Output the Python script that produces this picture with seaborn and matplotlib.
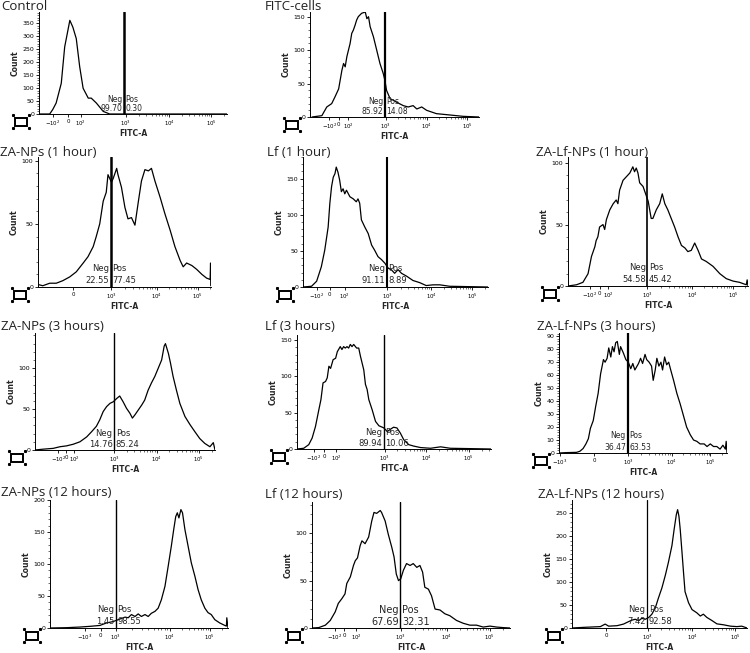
import matplotlib
matplotlib.use("Agg")
import numpy as np
import matplotlib.pyplot as plt
import seaborn as sns
from matplotlib.patches import Rectangle
from matplotlib.lines import Line2D
from matplotlib.ticker import AutoMinorLocator, FixedLocator

# Styling
sns.set_theme(style="ticks")
plt.rcParams["font.family"] = ["DejaVu Sans"]
plt.rcParams["mathtext.fontset"] = "dejavusans"

W, H = 750, 653

# Data (x = position on the FITC-A display scale, y = count)
control_x = [0.98, 1.23, 1.30, 1.38, 1.50, 1.58, 1.70, 1.77, 1.85, 1.93, 2.01, 2.13, 2.20, 2.32, 2.48, 2.63, 5.37]
control_y = [0, 0, 17, 42, 118, 258, 360, 334, 290, 182, 99, 61, 61, 42, 10, 0, 0]

fitc_x = [1.20, 1.32, 1.44, 1.56, 1.68, 1.76, 1.85, 1.93, 1.97, 2.01, 2.05, 2.13, 2.17, 2.21, 2.25, 2.29,
          2.33, 2.41, 2.50, 2.54, 2.58, 2.62, 2.70, 2.78, 2.86, 2.94, 2.98, 3.02, 3.11, 3.19, 3.27, 3.43,
          3.55, 3.67, 3.76, 3.88, 4.00, 4.24, 4.57, 4.89, 5.28]
fitc_y = [0, 1, 2, 15, 20, 30, 42, 70, 80, 75, 90, 110, 125, 130, 137, 145,
          150, 155, 157, 147, 150, 135, 120, 100, 80, 65, 55, 40, 27, 25, 22, 17,
          15, 17, 12, 15, 10, 5, 3, 1, 0]

za1_x = [1.31, 1.42, 1.58, 1.73, 1.88, 2.04, 2.19, 2.35, 2.46, 2.58, 2.65, 2.73, 2.81, 2.88, 2.92, 2.96,
         3.00, 3.04, 3.12, 3.15, 3.23, 3.31, 3.38, 3.46, 3.54, 3.62, 3.69, 3.77, 3.85, 3.92, 4.00, 4.12,
         4.23, 4.35, 4.46, 4.58, 4.65, 4.73, 4.85, 4.96, 5.08, 5.19, 5.27, 5.28, 5.285]
za1_y = [2, 1, 3, 3, 5, 8, 12, 19, 24, 32, 40, 50, 68, 75, 89, 86,
         83, 86, 94, 89, 79, 63, 54, 55, 49, 68, 84, 93, 92, 94, 84, 71,
         58, 45, 32, 21, 16, 19, 17, 14, 10, 7, 6, 19, 1]

lf1_x = [1.02, 1.22, 1.34, 1.45, 1.53, 1.61, 1.65, 1.69, 1.73, 1.77, 1.80, 1.84, 1.88, 1.92, 1.96, 2.00,
         2.04, 2.12, 2.20, 2.27, 2.31, 2.35, 2.39, 2.47, 2.55, 2.63, 2.70, 2.78, 2.86, 2.94, 3.02, 3.09,
         3.17, 3.25, 3.33, 3.45, 3.60, 3.76, 3.91, 4.07, 4.23, 4.46, 5.36]
lf1_y = [0, 1, 8, 28, 51, 83, 116, 139, 152, 157, 166, 159, 148, 132, 136, 129,
         134, 125, 122, 118, 122, 116, 93, 83, 74, 58, 51, 42, 38, 33, 26, 24,
         19, 24, 19, 15, 9, 6, 2, 3, 3, 1, 0]

zalf1_x = [1.14, 1.34, 1.49, 1.61, 1.69, 1.77, 1.80, 1.84, 1.88, 1.96, 2.00, 2.04, 2.12, 2.20, 2.27, 2.31,
           2.35, 2.43, 2.51, 2.59, 2.66, 2.70, 2.74, 2.78, 2.82, 2.90, 2.98, 3.02, 3.09, 3.13, 3.21, 3.29,
           3.35, 3.41, 3.48, 3.56, 3.64, 3.72, 3.80, 3.88, 3.95, 4.03, 4.11, 4.19, 4.27, 4.38, 4.54, 4.70,
           4.85, 5.01, 5.16, 5.32, 5.34, 5.36]
zalf1_y = [0, 1, 3, 10, 24, 32, 37, 40, 48, 50, 46, 54, 62, 67, 70, 67,
           78, 86, 89, 92, 97, 93, 96, 92, 84, 81, 73, 69, 55, 55, 62, 67,
           75, 67, 62, 55, 48, 40, 33, 31, 28, 29, 35, 29, 22, 20, 16, 10,
           6, 4, 3, 1, 5, 0]

za3_x = [1.13, 1.32, 1.56, 1.72, 1.87, 2.03, 2.19, 2.35, 2.46, 2.58, 2.66, 2.74, 2.82, 2.90, 2.98, 3.06,
         3.13, 3.21, 3.29, 3.37, 3.43, 3.49, 3.57, 3.65, 3.72, 3.80, 3.88, 3.96, 4.04, 4.12, 4.18, 4.21,
         4.28, 4.33, 4.39, 4.47, 4.55, 4.67, 4.79, 4.91, 5.02, 5.14, 5.26, 5.34, 5.38]
za3_y = [0, 1, 2, 4, 5, 7, 10, 16, 22, 29, 37, 47, 53, 57, 59, 63,
         66, 59, 51, 45, 39, 43, 49, 55, 61, 73, 82, 90, 100, 110, 127, 130,
         118, 106, 90, 73, 57, 41, 31, 22, 14, 8, 4, 9, 0]

lf3_x = [0.91, 1.07, 1.19, 1.27, 1.35, 1.43, 1.48, 1.53, 1.59, 1.63, 1.67, 1.71, 1.77, 1.83, 1.87, 1.90,
         1.94, 1.98, 2.02, 2.06, 2.10, 2.14, 2.18, 2.22, 2.26, 2.33, 2.38, 2.42, 2.50, 2.54, 2.58, 2.62,
         2.70, 2.78, 2.86, 2.98, 3.06, 3.13, 3.21, 3.29, 3.37, 3.45, 3.57, 3.69, 3.85, 4.09, 4.33, 4.56, 5.53]
lf3_y = [0, 1, 6, 15, 31, 54, 68, 91, 93, 98, 114, 111, 123, 125, 134, 137,
         141, 137, 141, 139, 141, 139, 144, 141, 144, 139, 139, 128, 109, 89, 82, 68,
         54, 38, 32, 29, 24, 27, 30, 29, 22, 13, 6, 4, 2, 1, 3, 1, 0]

zalf3_x = [1.30, 1.48, 1.73, 1.81, 1.89, 1.96, 2.02, 2.07, 2.14, 2.20, 2.26, 2.32, 2.39, 2.43, 2.48, 2.52,
           2.57, 2.61, 2.65, 2.69, 2.73, 2.78, 2.81, 2.88, 2.94, 3.00, 3.06, 3.11, 3.16, 3.25, 3.30, 3.35,
           3.41, 3.45, 3.51, 3.57, 3.61, 3.66, 3.70, 3.75, 3.80, 3.84, 3.89, 3.94, 3.99, 4.04, 4.11, 4.19,
           4.27, 4.35, 4.43, 4.52, 4.60, 4.68, 4.76, 4.86, 4.93, 5.01, 5.09, 5.17, 5.25, 5.32, 5.38, 5.40, 5.42]
zalf3_y = [0, 0.3, 0.5, 1.3, 3.4, 7, 11, 19, 25, 36, 46, 61, 72, 70, 73, 81,
           74, 82, 78, 85, 86, 76, 82, 77, 72, 70, 65, 69, 64, 69, 73, 69,
           76, 72, 70, 67, 56, 64, 73, 67, 70, 64, 74, 68, 70, 64, 56, 46,
           38, 29, 20, 14, 10, 9, 7, 7, 5, 7, 5, 5, 3, 6, 3, 9, 0]

za12_x = [1.35, 1.77, 2.10, 2.35, 2.60, 2.77, 2.93, 3.10, 3.23, 3.31, 3.39, 3.48, 3.56, 3.64, 3.73, 3.81,
          3.89, 3.98, 4.06, 4.14, 4.23, 4.31, 4.39, 4.45, 4.50, 4.54, 4.58, 4.63, 4.67, 4.73, 4.81, 4.89,
          4.98, 5.06, 5.14, 5.23, 5.31, 5.39, 5.48, 5.60, 5.73, 5.77, 5.78, 5.81]
za12_y = [0, 0.5, 1.5, 2.6, 4, 8, 10, 14, 17, 16, 21, 18, 22, 18, 21, 18,
          23, 26, 31, 44, 65, 96, 128, 154, 174, 180, 172, 185, 180, 154, 128, 102,
          81, 60, 44, 31, 24, 21, 13, 8, 4, 3, 16, 0]

lf12_x = [1.01, 1.16, 1.31, 1.42, 1.53, 1.60, 1.68, 1.75, 1.79, 1.87, 1.94, 1.98, 2.03, 2.09, 2.13, 2.20,
          2.28, 2.35, 2.40, 2.46, 2.54, 2.57, 2.65, 2.72, 2.80, 2.85, 2.90, 2.95, 3.00, 3.06, 3.13, 3.21,
          3.28, 3.36, 3.43, 3.49, 3.54, 3.62, 3.69, 3.77, 3.88, 3.99, 4.10, 4.25, 4.40, 4.55, 4.70, 4.85,
          5.00, 5.15, 5.30, 5.45]
lf12_y = [0, 0.4, 3, 8, 17, 26, 31, 36, 47, 54, 66, 71, 74, 87, 92, 89,
          96, 113, 122, 121, 124, 122, 113, 99, 85, 75, 57, 50, 52, 61, 68, 66,
          68, 64, 66, 59, 43, 41, 34, 20, 19, 15, 13, 8, 5, 3, 3, 1,
          2, 1, 0.4, 0]

zalf12_x = [1.26, 1.53, 1.91, 2.02, 2.10, 2.29, 2.44, 2.56, 2.63, 2.71, 2.79, 2.86, 2.94, 3.02, 3.09, 3.17,
            3.24, 3.32, 3.40, 3.47, 3.55, 3.60, 3.65, 3.68, 3.71, 3.74, 3.78, 3.82, 3.85, 3.93, 4.01, 4.12,
            4.20, 4.27, 4.35, 4.47, 4.58, 4.73, 4.89, 5.04, 5.15, 5.27]
zalf12_y = [0, 1.4, 3, 8.5, 4, 5, 8.5, 14, 17, 19, 16, 21, 19, 23, 30, 44,
            65, 87, 115, 143, 179, 214, 246, 257, 243, 214, 165, 115, 79, 55, 40, 33,
            26, 30, 23, 16, 9, 7, 4, 3, 4, 0]

titles = ["Control", "FITC-cells", "ZA-NPs (1 hour)", "Lf (1 hour)", "ZA-Lf-NPs (1 hour)",
          "ZA-NPs (3 hours)", "Lf (3 hours)", "ZA-Lf-NPs (3 hours)",
          "ZA-NPs (12 hours)", "Lf (12 hours)", "ZA-Lf-NPs (12 hours)"]
neg_pct = ["99.70", "85.92", "22.55", "91.11", "54.58", "14.76", "89.94", "36.47", "1.45", "67.69", "7.42"]
pos_pct = ["0.30", "14.08", "77.45", "8.89", "45.42", "85.24", "10.06", "63.53", "98.55", "32.31", "92.58"]
gates = [2.96, 2.98, 2.98, 2.98, 3.00, 3.00, 2.98, 2.98, 3.00, 2.99, 2.98]

# FITC-A tick positions per panel on the display scale
L_M2, L_0, L_2, L_M3 = "$-10^{2}$", "0", "$10^{2}$", "$-10^{3}$"
L_3, L_4, L_5 = "$10^{3}$", "$10^{4}$", "$10^{5}$"
xticks = [
    ([1.30, 1.66, 1.95, 3.0, 4.02, 5.0], [L_M2, L_0, L_2, L_3, L_4, L_5]),
    ([1.62, 1.85, 2.09, 3.0, 4.00, 4.99], [L_M2, L_0, L_2, L_3, L_4, L_5]),
    ([2.12, 3.0, 4.04, 4.98], [L_0, L_3, L_4, L_5]),
    ([1.34, 1.65, 2.00, 3.0, 4.03, 4.99], [L_M2, L_0, L_2, L_3, L_4, L_5]),
    ([1.65, 1.88, 2.08, 3.0, 4.05, 5.01], [L_M2, L_0, L_2, L_3, L_4, L_5]),
    ([1.68, 1.86, 2.06, 3.0, 4.00, 5.00], [L_M2, L_0, L_2, L_3, L_4, L_5]),
    ([1.31, 1.56, 1.85, 3.0, 3.99, 5.00], [L_M2, L_0, L_2, L_3, L_4, L_5]),
    ([1.32, 2.16, 3.0, 4.07, 5.01], [L_M3, L_0, L_3, L_4, L_5]),
    ([2.23, 2.62, 3.0, 4.35, 5.35], [L_M3, L_0, L_3, L_4, L_5]),
    ([1.53, 1.73, 2.00, 3.0, 4.03, 5.00], [L_M2, L_0, L_2, L_3, L_4, L_5]),
    ([2.05, 3.0, 4.01, 5.00], [L_0, L_3, L_4, L_5]),
]
xlims = [(0.98, 5.37), (1.15, 5.28), (1.31, 5.29), (1.02, 5.36), (1.14, 5.36), (1.13, 5.38),
         (0.91, 5.53), (1.30, 5.42), (1.35, 5.81), (1.01, 5.45), (1.26, 5.27)]
ymax = [392, 157, 103, 180, 105, 143, 157, 92.5, 200, 133, 278]
ystep = [50, 50, 50, 50, 50, 50, 50, 10, 50, 50, 50]

curves = [(control_x, control_y), (fitc_x, fitc_y), (za1_x, za1_y), (lf1_x, lf1_y),
          (zalf1_x, zalf1_y), (za3_x, za3_y), (lf3_x, lf3_y), (zalf3_x, zalf3_y),
          (za12_x, za12_y), (lf12_x, lf12_y), (zalf12_x, zalf12_y)]

# Layout (pixel boxes: left, top, right, bottom) and title positions
boxes = [(39, 12, 227, 114), (310, 12, 479, 117),
         (38, 157, 211, 287), (303, 157, 488, 287), (568, 157, 748, 286),
         (35, 333, 215, 450), (297, 335, 491, 449), (559, 333, 727, 453),
         (50, 500, 228, 628), (312, 502, 510, 628), (572, 500, 747, 628)]
title_pos = [(1, 7), (265, 7), (0, 152), (267, 152), (536, 152),
             (1, 326), (265, 326), (537, 326), (1, 493), (265, 494), (538, 494)]
gate_lw = [1.8, 1.6, 1.8, 1.5, 1.2, 1.0, 1.0, 1.6, 1.0, 1.0, 0.9]
pct_size = [5.5, 5.5, 6, 6, 6, 6, 6, 5.5, 6, 7, 6]

fig = plt.figure(figsize=(W / 100, H / 100), dpi=100)
fig.patch.set_facecolor("white")


def add_icon(x, y):
    # little gate-tool glyph under the y axis
    fig.add_artist(Rectangle((x / W, 1 - (y + 9) / H), 12 / W, 8 / H,
                             transform=fig.transFigure, fill=False, lw=1.4, ec="black"))
    for dx, dy in [(-2, -2), (14, -2), (-2, 11), (14, 11)]:
        fig.add_artist(Line2D([(x + dx) / W], [1 - (y + dy) / H], marker="s", ms=1.2,
                              color="black", transform=fig.transFigure))


for i, (left, top, right, bottom) in enumerate(boxes):
    ax = fig.add_axes([left / W, 1 - bottom / H, (right - left) / W, (bottom - top) / H])
    ax.set_facecolor("white")
    cx, cy = curves[i]
    sns.lineplot(x=cx, y=cy, ax=ax, color="black", linewidth=0.9, sort=False, estimator=None)
    ax.axvline(gates[i], color="black", lw=gate_lw[i])

    ax.set_xlim(*xlims[i])
    ax.set_ylim(0, ymax[i])
    ticks, labels = xticks[i]
    ax.set_xticks(ticks)
    ax.set_xticklabels(labels)
    ax.set_yticks(np.arange(0, ymax[i] + 0.01, ystep[i]))
    ax.yaxis.set_minor_locator(AutoMinorLocator(5))

    # log-style minor ticks in the upper decades
    i3 = ticks.index(3.0)
    minors = []
    for t0, t1 in zip(ticks[i3:-1], ticks[i3 + 1:]):
        minors += [t0 + np.log10(k) * (t1 - t0) for k in range(2, 10)]
    w = ticks[-1] - ticks[-2]
    minors += [ticks[-1] + np.log10(k) * w for k in range(2, 10) if ticks[-1] + np.log10(k) * w < xlims[i][1]]
    ax.xaxis.set_minor_locator(FixedLocator(minors))

    for s in ["top", "right"]:
        ax.spines[s].set_visible(False)
    for s in ["left", "bottom"]:
        ax.spines[s].set_linewidth(0.7)
        ax.spines[s].set_color("black")
    ax.tick_params(axis="x", which="major", labelsize=3.9, length=2.5, width=0.6, pad=0.8, colors="black")
    ax.tick_params(axis="y", which="major", labelsize=4.5, length=2.5, width=0.6, pad=0.8, colors="black")
    ax.tick_params(axis="both", which="minor", length=1.3, width=0.4, colors="black")
    ax.set_xlabel("FITC-A", fontsize=5.5, fontweight="bold", labelpad=1)
    ax.set_ylabel("Count", fontsize=5.5, fontweight="bold", labelpad=2)
    ax.grid(False)

    fs = pct_size[i]
    for txt, yf in [("Neg", 0.145), (neg_pct[i], 0.05)]:
        ax.annotate(txt, xy=(gates[i], yf), xycoords=("data", "axes fraction"),
                    xytext=(-1.2, 0), textcoords="offset points",
                    ha="right", va="center", fontsize=fs)
    for txt, yf in [("Pos", 0.145), (pos_pct[i], 0.05)]:
        ax.annotate(txt, xy=(gates[i], yf), xycoords=("data", "axes fraction"),
                    xytext=(1.2, 0), textcoords="offset points",
                    ha="left", va="center", fontsize=fs)

    tx, ty = title_pos[i]
    fig.text(tx / W, 1 - ty / H, titles[i], fontsize=9.5, family=["Open Sans", "DejaVu Sans"],
             ha="left", va="center", color="#222222")
    add_icon(left - 24, bottom + 3)

fig.savefig("out.png", dpi=100, facecolor="white")
